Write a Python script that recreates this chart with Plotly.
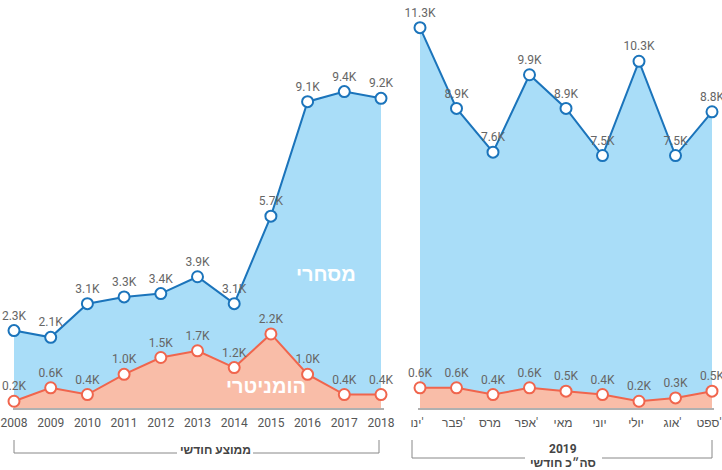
import plotly.graph_objects as go

years = ["2008", "2009", "2010", "2011", "2012", "2013", "2014", "2015", "2016", "2017", "2018"]
commercial_avg = [2.3, 2.1, 3.1, 3.3, 3.4, 3.9, 3.1, 5.7, 9.1, 9.4, 9.2]
humanitarian_avg = [0.2, 0.6, 0.4, 1.0, 1.5, 1.7, 1.2, 2.2, 1.0, 0.4, 0.4]

months = ["ינו'", "פבר'", "מרס", "אפר'", "מאי", "יוני", "יולי", "אוג'", "ספט'"]
commercial_2019 = [11.3, 8.9, 7.6, 9.9, 8.9, 7.5, 10.3, 7.5, 8.8]
humanitarian_2019 = [0.6, 0.6, 0.4, 0.6, 0.5, 0.4, 0.2, 0.3, 0.5]

W, H = 722, 470
PLOT_BOTTOM = 408
BLUE = "#1b74bb"
BLUE_FILL = "#a9ddf8"
ORANGE = "#f0654d"
ORANGE_FILL = "#f9bda8"
FONT = "Roboto, 'Liberation Sans', 'DejaVu Sans', sans-serif"

def lbl(v):
    return [f"{x:.1f}K" for x in v]

def ltr(s):
    # keep the original left-to-right layout of the month labels
    return "\u202a" + s + "\u202c"

fig = go.Figure()

def add_series(xs, ys, color, fill, xaxis):
    fig.add_trace(go.Scatter(
        x=xs, y=ys, xaxis=xaxis, yaxis="y",
        mode="lines+markers+text",
        line=dict(color=color, width=2),
        fill="tozeroy", fillcolor=fill,
        marker=dict(size=11, color="white", line=dict(color=color, width=2)),
        text=lbl(ys), textposition="top center",
        textfont=dict(family=FONT, size=12, color="#666666"),
        cliponaxis=False, hoverinfo="skip", showlegend=False,
    ))

idx_l = list(range(len(years)))
idx_r = list(range(len(months)))
add_series(idx_l, commercial_avg, BLUE, BLUE_FILL, "x")
add_series(idx_l, humanitarian_avg, ORANGE, ORANGE_FILL, "x")
add_series(idx_r, commercial_2019, BLUE, BLUE_FILL, "x2")
add_series(idx_r, humanitarian_2019, ORANGE, ORANGE_FILL, "x2")

def px_x(p):
    return p / W

def px_y(p):
    return (PLOT_BOTTOM - p) / PLOT_BOTTOM

l0, l1, ls = 14, 381, (381 - 14) / 10
r0, r1, rs = 420, 712, (712 - 420) / 8
dl = (13, 384)
dr = (418, 714)

axis_common = dict(
    showline=True, linecolor="#b0b0b0", linewidth=2, showgrid=False,
    zeroline=False, ticks="", tickmode="array", automargin=False,
    ticklabelstandoff=3, ticklabeloverflow="allow",
    tickfont=dict(family=FONT, size=12, color="#555555"),
)
ymax = PLOT_BOTTOM / 33.66

fig.update_layout(
    width=W, height=H,
    margin=dict(l=0, r=0, t=0, b=H - PLOT_BOTTOM, autoexpand=False),
    paper_bgcolor="white", plot_bgcolor="white",
    font=dict(family=FONT),
    xaxis=dict(domain=[px_x(dl[0]), px_x(dl[1])],
               range=[(dl[0] - l0) / ls, (dl[1] - l0) / ls],
               tickvals=idx_l, ticktext=years, anchor="y", **axis_common),
    xaxis2=dict(domain=[px_x(dr[0]), px_x(dr[1])],
                range=[(dr[0] - r0) / rs, (dr[1] - r0) / rs],
                tickvals=idx_r, ticktext=[ltr(m) for m in months],
                ticklabelshift=-3, anchor="y", **axis_common),
    yaxis=dict(range=[0, ymax], visible=False, showgrid=False, zeroline=False,
               automargin=False),
)

shapes = []
def seg(x0, y0, x1, y1):
    shapes.append(dict(type="line", xref="paper", yref="paper",
                       x0=px_x(x0), y0=px_y(y0), x1=px_x(x1), y1=px_y(y1),
                       line=dict(color="#888888", width=1)))

# left bracket
seg(14, 440, 14, 453)
seg(379, 440, 379, 453)
seg(14, 453, 177, 453)
seg(253, 453, 379, 453)
# right bracket
seg(412, 440, 412, 458)
seg(712, 440, 712, 458)
seg(412, 458, 525, 458)
seg(602, 458, 712, 458)
fig.update_layout(shapes=shapes)

def ann(text, x, y, size, color, bold=True):
    t = f"<b>{text}</b>" if bold else text
    fig.add_annotation(text=t, xref="paper", yref="paper",
                       x=px_x(x), y=px_y(y), xanchor="center", yanchor="middle",
                       showarrow=False,
                       font=dict(family=FONT, size=size, color=color))

ann("ממוצע חודשי", 215, 450, 12, "#444444")
ann("2019", 563, 449, 12, "#444444")
ann("סה״כ חודשי", 563, 463, 12, "#444444")
ann("מסחרי", 326, 274, 20, "white")
ann("הומניטרי", 266, 386, 20, "white")

fig.write_html("out.html", config={"displayModeBar": False, "staticPlot": True},
               post_script="document.body.style.margin='0';document.body.style.overflow='hidden';")
